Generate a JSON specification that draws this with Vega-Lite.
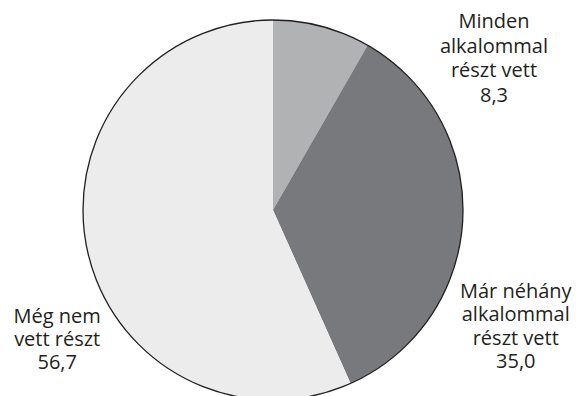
{
  "$schema": "https://vega.github.io/schema/vega-lite/v6.json",
  "autosize": {"type": "none"},
  "width": 546,
  "height": 372,
  "padding": {"left": 0, "right": 33, "top": 24, "bottom": 0},
  "background": "white",
  "view": {"stroke": null},
  "data": {
    "values": [
      {"kategoria": "Minden alkalommal részt vett", "ertek": 8.3, "felirat": "Minden\nalkalommal\nrészt vett\n8,3", "sorrend": 1},
      {"kategoria": "Már néhány alkalommal részt vett", "ertek": 35.0, "felirat": "Már néhány\nalkalommal\nrészt vett\n35,0", "sorrend": 2},
      {"kategoria": "Még nem vett részt", "ertek": 56.7, "felirat": "Még nem\nvett részt\n56,7", "sorrend": 3}
    ]
  },
  "encoding": {
    "theta": {"field": "ertek", "type": "quantitative", "stack": true},
    "order": {"field": "sorrend", "type": "ordinal", "sort": "ascending"}
  },
  "layer": [
    {
      "mark": {"type": "arc", "outerRadius": 190, "stroke": null},
      "encoding": {
        "color": {
          "field": "kategoria",
          "type": "nominal",
          "scale": {
            "domain": ["Minden alkalommal részt vett", "Már néhány alkalommal részt vett", "Még nem vett részt"],
            "range": ["#b1b2b4", "#78797c", "#ececec"]
          },
          "legend": null
        }
      }
    },
    {
      "mark": {"type": "arc", "outerRadius": 190, "fill": null, "stroke": "#231f20", "strokeWidth": 1.3},
      "encoding": {
        "theta": {"aggregate": "sum", "field": "ertek", "type": "quantitative"},
        "order": null
      }
    },
    {
      "mark": {"type": "text", "radius": 190, "dx": 172, "dy": -4, "align": "center", "baseline": "middle", "lineBreak": "\n", "lineHeight": 24.5, "font": "Open Sans", "fontSize": 20, "color": "#231f20"},
      "encoding": {
        "text": {"condition": {"test": "datum.sorrend === 1", "field": "felirat"}, "value": ""}
      }
    },
    {
      "mark": {"type": "text", "radius": 190, "dx": 53, "dy": 72, "align": "center", "baseline": "middle", "lineBreak": "\n", "lineHeight": 23.5, "font": "Open Sans", "fontSize": 20, "color": "#231f20"},
      "encoding": {
        "text": {"condition": {"test": "datum.sorrend === 2", "field": "felirat"}, "value": ""}
      }
    },
    {
      "mark": {"type": "text", "radius": 190, "dx": -30, "dy": 67, "align": "center", "baseline": "middle", "lineBreak": "\n", "lineHeight": 23, "font": "Open Sans", "fontSize": 20, "color": "#231f20"},
      "encoding": {
        "text": {"condition": {"test": "datum.sorrend === 3", "field": "felirat"}, "value": ""}
      }
    }
  ]
}
